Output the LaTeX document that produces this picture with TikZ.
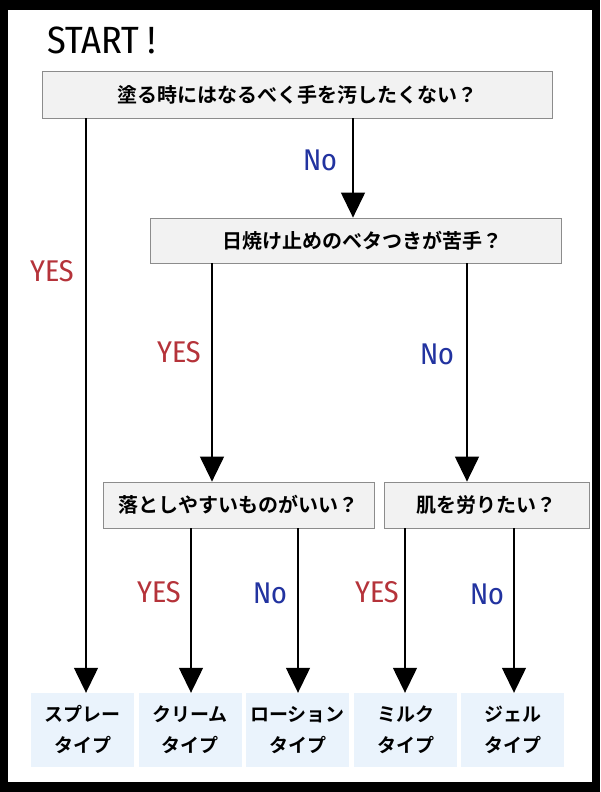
\documentclass[tikz,border=0pt]{standalone}
\usepackage{fontspec}
\newfontfamily\jp{Noto Sans CJK JP Bold}
\newfontfamily\hand{Fira Sans Condensed}
\usetikzlibrary{arrows.meta}
\definecolor{qgray}{HTML}{F2F2F2}
\definecolor{ablue}{HTML}{EAF3FC}
\definecolor{yred}{HTML}{B5333A}
\definecolor{nblue}{HTML}{2233A0}
\begin{document}
\begin{tikzpicture}[x=1pt,y=-1pt,
  q/.style={draw=black!45,fill=qgray,line width=0.8pt,inner sep=0pt,font=\jp\fontsize{20}{22}\selectfont},
  ans/.style={fill=ablue,inner sep=0pt,minimum width=103pt,minimum height=74pt,align=center,font=\jp\fontsize{19}{31}\selectfont},
  arr/.style={line width=1.3pt,-{Triangle[width=24pt,length=25pt]}},
  yes/.style={text=yred,font=\hand\fontsize{30}{30}\selectfont},
  no/.style={text=nblue,font=\hand\fontsize{30}{30}\selectfont}]
\fill[black] (0,0) rectangle (600,792);
\fill[white] (8,10) rectangle (592,782);
\node[font=\hand\fontsize{38}{38}\selectfont,anchor=west] (start) at (44,40) {START !};
\node[q,minimum width=510pt,minimum height=47pt] (q1) at (297,94.5) {塗る時にはなるべく手を汚したくない？};
\node[q,minimum width=411pt,minimum height=45pt] (q2) at (355.5,240.5) {\hspace*{14pt}日焼け止めのベタつきが苦手？};
\node[q,minimum width=271pt,minimum height=46pt] (q3) at (238.5,505) {落としやすいものがいい？};
\node[q,minimum width=205pt,minimum height=46pt] (q4) at (486.5,505) {肌を労りたい？};
\node[ans] (a1) at (82.5,730) {スプレー\\タイプ};
\node[ans] (a2) at (190,730) {クリーム\\タイプ};
\node[ans] (a3) at (297.5,730) {ローション\\タイプ};
\node[ans] (a4) at (405.5,730) {ミルク\\タイプ};
\node[ans] (a5) at (512.5,730) {ジェル\\タイプ};
\draw[arr] (q1.south -| 86,0) -- (a1.north -| 86,0);
\draw[arr] (q1.south -| 353,0) -- (q2.north -| 353,0);
\draw[arr] (q2.south -| 212,0) -- (q3.north -| 212,0);
\draw[arr] (q2.south -| 467,0) -- (q4.north -| 467,0);
\draw[arr] (q3.south -| 191,0) -- (a2.north -| 191,0);
\draw[arr] (q3.south -| 298,0) -- (a3.north -| 298,0);
\draw[arr] (q4.south -| 405,0) -- (a4.north -| 405,0);
\draw[arr] (q4.south -| 514,0) -- (a5.north -| 514,0);
\node[yes] (y1) at (52,271) {YES};
\node[no] (n1) at (320,160) {No};
\node[yes] (y2) at (179,352) {YES};
\node[no] (n2) at (437,354) {No};
\node[yes] (y3) at (159,592) {YES};
\node[no] (n3) at (270,593) {No};
\node[yes] (y4) at (377,592) {YES};
\node[no] (n4) at (487,594) {No};
\end{tikzpicture}
\end{document}
